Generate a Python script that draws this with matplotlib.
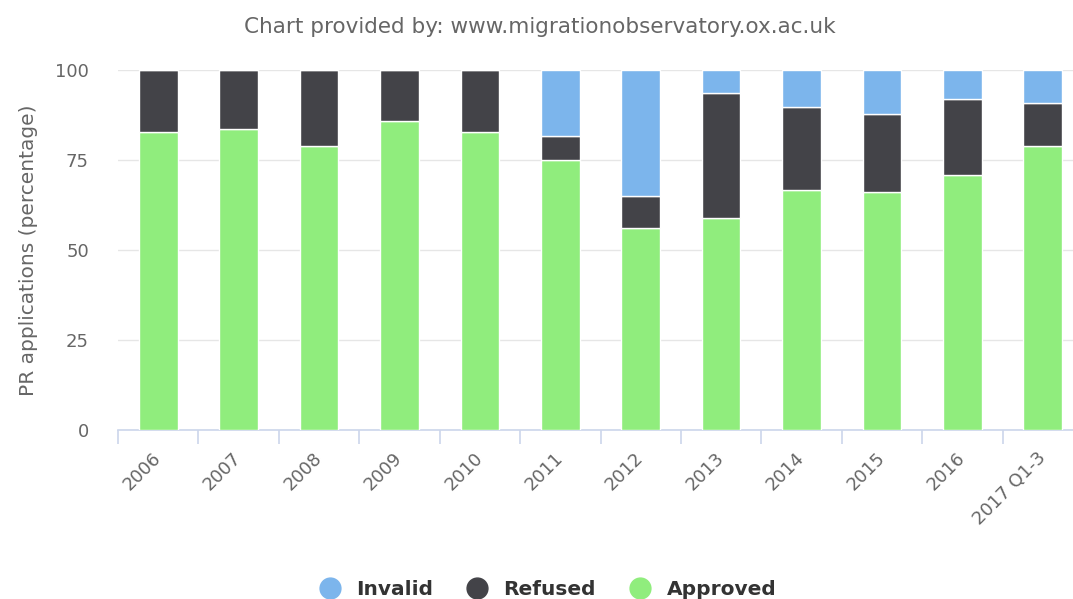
import numpy as np
import matplotlib.pyplot as plt
from matplotlib.lines import Line2D

years = ['2006', '2007', '2008', '2009', '2010', '2011', '2012',
         '2013', '2014', '2015', '2016', '2017 Q1-3']
approved = [82.9, 83.6, 78.9, 85.8, 82.8, 75.0, 56.2, 58.8, 66.7, 66.0, 70.7, 79.0]
refused = [17.1, 16.4, 21.1, 14.2, 17.2, 6.7, 8.8, 34.7, 23.1, 21.8, 21.2, 11.9]
invalid = [0.0, 0.0, 0.0, 0.0, 0.0, 18.3, 35.0, 6.5, 10.2, 12.2, 8.1, 9.1]

c_app = '#90ED7D'
c_ref = '#434348'
c_inv = '#7CB5EC'

plt.rcParams['font.family'] = 'DejaVu Sans'

fig = plt.figure(figsize=(10.73, 5.99), dpi=100)
ax = fig.add_axes([118 / 1073, 169 / 599, 965 / 1073, 360 / 599])

x = np.arange(len(years))
app = np.array(approved)
ref = np.array(refused)
inv = np.array(invalid)
w = 0.48
ax.bar(x, app, w, color=c_app, edgecolor='white', linewidth=1, zorder=3)
ax.bar(x, ref, w, bottom=app, color=c_ref, edgecolor='white', linewidth=1, zorder=3)
ax.bar(x, inv, w, bottom=app + ref, color=c_inv, edgecolor='white', linewidth=1, zorder=3)

ax.set_xlim(-0.5, len(years) - 0.5)
ax.set_ylim(0, 100)
ax.set_yticks([0, 25, 50, 75, 100])
ax.yaxis.grid(True, color='#e6e6e6', linewidth=1, zorder=0)
for s in ['top', 'right', 'left']:
    ax.spines[s].set_visible(False)
ax.spines['bottom'].set_color('#ccd6eb')
ax.spines['bottom'].set_linewidth(1.2)

ax.set_xticks(x - 0.5, minor=True)
ax.set_xticks(x)
ax.tick_params(axis='x', which='minor', length=10, color='#ccd6eb', width=1.2)
ax.tick_params(axis='x', which='major', length=0, pad=18)
ax.set_xticklabels(years, rotation=45, ha='right', va='center',
                   rotation_mode='anchor', fontsize=13, color='#666666')
ax.tick_params(axis='y', length=0, labelsize=13, labelcolor='#666666', pad=21)

ax.set_ylabel('PR applications (percentage)', fontsize=14.5, color='#666666', labelpad=12)

fig.text(0.503, 0.955, 'Chart provided by: www.migrationobservatory.ox.ac.uk',
         ha='center', va='center', fontsize=15.5, color='#666666')

handles = [Line2D([], [], marker='o', linestyle='none', markersize=15,
                  markerfacecolor=c, markeredgecolor=c) for c in (c_inv, c_ref, c_app)]
fig.legend(handles, ['Invalid', 'Refused', 'Approved'], loc='lower center',
           bbox_to_anchor=(0.506, -0.03), ncol=3, frameon=False,
           prop={'weight': 'bold', 'size': 14.5}, labelcolor='#333333',
           handletextpad=0.3, columnspacing=1.2)

fig.savefig('out.png', dpi=100)
